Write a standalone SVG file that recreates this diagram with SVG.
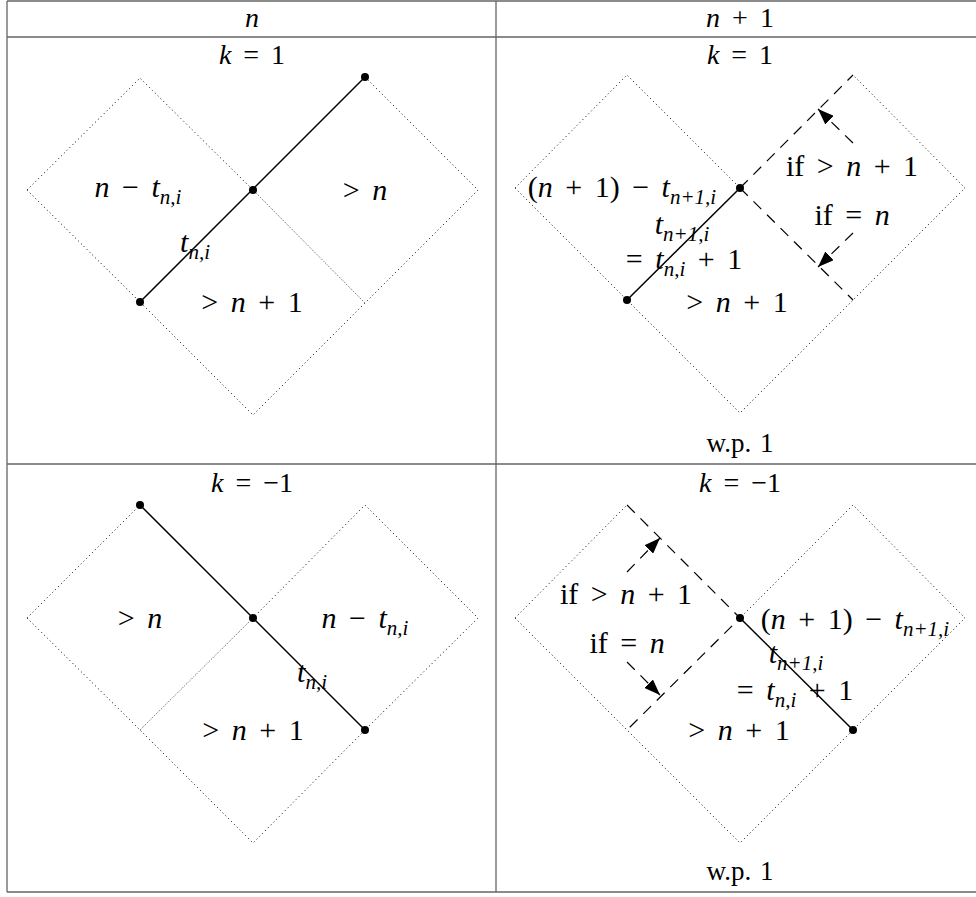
<svg xmlns="http://www.w3.org/2000/svg" width="976" height="897" viewBox="0 0 976 897">
<style>
.frame{stroke:#666;stroke-width:1.3;fill:none}
.dot{stroke:#000;stroke-width:1;stroke-dasharray:1 3;fill:none}
.fine{stroke:#000;stroke-width:0.7;stroke-dasharray:1 1.5;fill:none}
.dash{stroke:#000;stroke-width:1.2;stroke-dasharray:11 8;fill:none}
.solid{stroke:#000;stroke-width:1.5;fill:none}
.arr{stroke:#000;stroke-width:1.2;stroke-dasharray:11 8;fill:none;marker-end:url(#ah)}
.pt{fill:#000}
text{font-family:"Liberation Serif","Times New Roman",serif;font-size:30px;text-anchor:middle;fill:#000;word-spacing:5px;white-space:pre}
.i{font-style:italic}
.s{font-size:21px}
.h{font-size:28px}
.wp{font-size:27px;word-spacing:2px}
</style>
<defs>
<marker id="ah" viewBox="0 0 16 12" refX="16" refY="6" markerWidth="16" markerHeight="12" markerUnits="userSpaceOnUse" orient="auto">
<path d="M0,0 L16,6 L0,12 z" fill="#000"/>
</marker>
</defs>
<g id="table" class="frame">
<path d="M7,1 H976 M7,37 H976 M7,464 H976 M7,892 H976 M7,1 V892 M496,1 V892"/>
</g>
<g id="headers">
<text class="h" x="252" y="27"><tspan class="i">n</tspan></text>
<text class="h" x="740" y="27"><tspan class="i">n</tspan> + 1</text>
<text class="h" x="252" y="64"><tspan class="i">k</tspan> = 1</text>
<text class="h" x="740" y="64"><tspan class="i">k</tspan> = 1</text>
<text class="h" x="252" y="492"><tspan class="i">k</tspan> = −1</text>
<text class="h" x="740" y="492"><tspan class="i">k</tspan> = −1</text>
</g>
<g id="panel-n-k1">
<path class="dot" d="M27,190 L140,78 L253,190 M27,190 L140,302 L253,415 L365,303 L478,190 L365,77"/>
<path class="fine" d="M253,190 L365,303"/>
<path class="solid" d="M140,302 L365,77"/>
<circle class="pt" cx="140" cy="302" r="4"/><circle class="pt" cx="253" cy="190" r="4"/><circle class="pt" cx="365" cy="77" r="4"/>
<text x="138" y="197"><tspan class="i">n</tspan> − <tspan class="i">t</tspan><tspan class="s i" dy="7">n,i</tspan></text>
<text x="365" y="200">&gt; <tspan class="i">n</tspan></text>
<text x="195" y="252"><tspan class="i">t</tspan><tspan class="s i" dy="7">n,i</tspan></text>
<text x="252" y="312">&gt; <tspan class="i">n</tspan> + 1</text>
</g>
<g id="panel-n1-k1">
<path class="dot" d="M515,188 L627,75 L740,188 M515,188 L627,300 L740,413 L853,300 L965,188 L853,75"/>
<path class="dash" d="M740,188 L853,75 M740,188 L853,300"/>
<path class="solid" d="M627,300 L740,188"/>
<circle class="pt" cx="627" cy="300" r="4"/><circle class="pt" cx="740" cy="188" r="4"/>
<path class="arr" d="M853,143 L818,109"/>
<path class="arr" d="M853,233 L818,267"/>
<text x="622" y="197">(<tspan class="i">n</tspan> + 1) − <tspan class="i">t</tspan><tspan class="s i" dy="7">n+1,i</tspan></text>
<text x="682" y="234"><tspan class="i">t</tspan><tspan class="s i" dy="7">n+1,i</tspan></text>
<text x="684" y="269">= <tspan class="i">t</tspan><tspan class="s i" dy="7">n,i</tspan><tspan dy="-7"> + 1</tspan></text>
<text x="737" y="312">&gt; <tspan class="i">n</tspan> + 1</text>
<text x="852" y="176">if &gt; <tspan class="i">n</tspan> + 1</text>
<text x="852" y="225">if = <tspan class="i">n</tspan></text>
<text class="wp" x="740" y="452">w.p. 1</text>
</g>
<g id="panel-n-km1">
<path class="dot" d="M27,618 L140,505 M27,618 L140,730 L253,843 L365,730 L478,618 L365,505 L253,618"/>
<path class="fine" d="M140,730 L253,618"/>
<path class="solid" d="M140,505 L365,730"/>
<circle class="pt" cx="140" cy="505" r="4"/><circle class="pt" cx="253" cy="618" r="4"/><circle class="pt" cx="365" cy="730" r="4"/>
<text x="140" y="628">&gt; <tspan class="i">n</tspan></text>
<text x="365" y="628"><tspan class="i">n</tspan> − <tspan class="i">t</tspan><tspan class="s i" dy="7">n,i</tspan></text>
<text x="312" y="682"><tspan class="i">t</tspan><tspan class="s i" dy="7">n,i</tspan></text>
<text x="253" y="740">&gt; <tspan class="i">n</tspan> + 1</text>
</g>
<g id="panel-n1-km1">
<path class="dot" d="M515,618 L627,505 M515,618 L627,730 L740,843 L853,730 L965,618 L853,505 L740,618"/>
<path class="dash" d="M627,505 L740,618 L627,730"/>
<path class="solid" d="M740,618 L853,730"/>
<circle class="pt" cx="740" cy="618" r="4"/><circle class="pt" cx="853" cy="730" r="4"/>
<path class="arr" d="M627,572 L660,538"/>
<path class="arr" d="M627,662 L660,695"/>
<text x="626" y="604">if &gt; <tspan class="i">n</tspan> + 1</text>
<text x="627" y="653">if = <tspan class="i">n</tspan></text>
<text x="855" y="629">(<tspan class="i">n</tspan> + 1) − <tspan class="i">t</tspan><tspan class="s i" dy="7">n+1,i</tspan></text>
<text x="796" y="663"><tspan class="i">t</tspan><tspan class="s i" dy="7">n+1,i</tspan></text>
<text x="795" y="700">= <tspan class="i">t</tspan><tspan class="s i" dy="7">n,i</tspan><tspan dy="-7"> + 1</tspan></text>
<text x="739" y="740">&gt; <tspan class="i">n</tspan> + 1</text>
<text class="wp" x="740" y="880">w.p. 1</text>
</g>
</svg>
